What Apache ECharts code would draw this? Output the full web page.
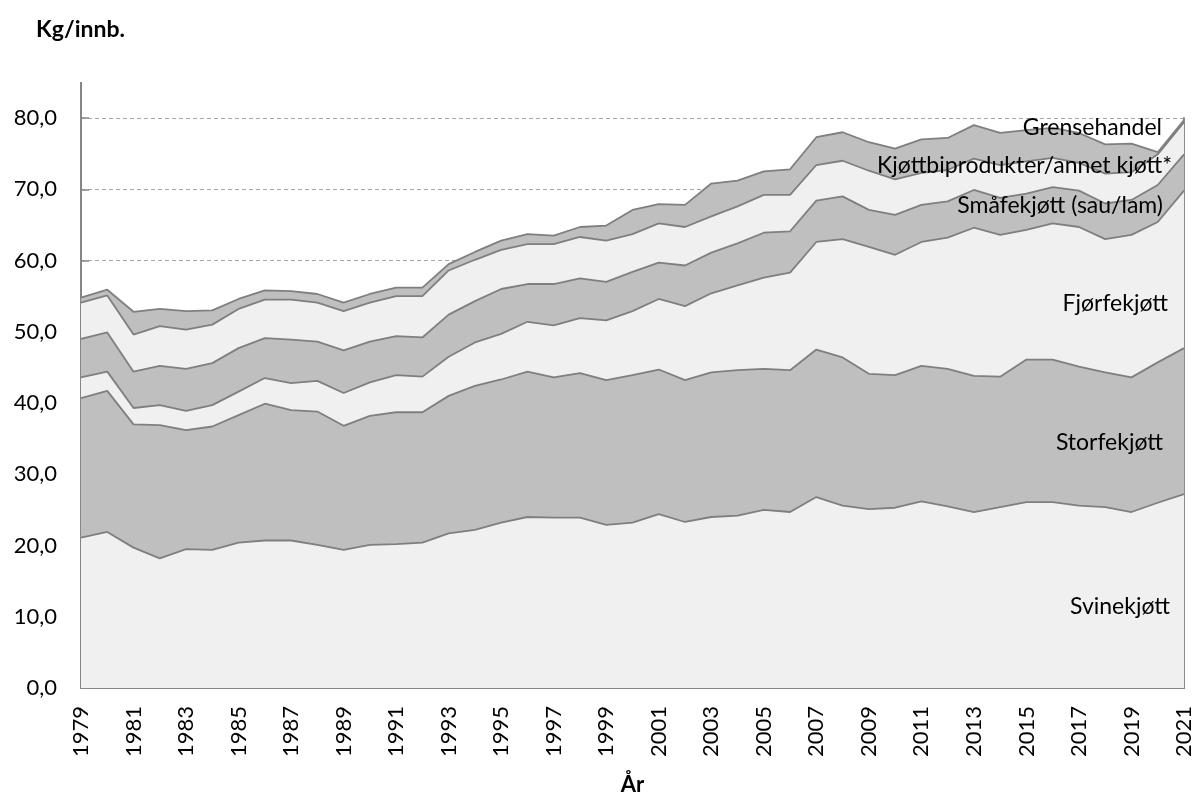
<!DOCTYPE html>
<html>
<head>
<meta charset="utf-8">
<script src="https://cdn.jsdelivr.net/npm/echarts@6/dist/echarts.min.js"></script>
<style>
  html, body { margin: 0; padding: 0; background: #fff; }
  #main { width: 1196px; height: 793px; }
</style>
</head>
<body>
<div id="main"></div>
<script>
  // år
  var years = ['1979', '1980', '1981', '1982', '1983', '1984', '1985', '1986', '1987', '1988',
    '1989', '1990', '1991', '1992', '1993', '1994', '1995', '1996', '1997', '1998',
    '1999', '2000', '2001', '2002', '2003', '2004', '2005', '2006', '2007', '2008',
    '2009', '2010', '2011', '2012', '2013', '2014', '2015', '2016', '2017', '2018',
    '2019', '2020', '2021'];

  // kg per innbygger, lest av figuren
  var svinekjott = [21.1, 21.9, 19.7, 18.2, 19.5, 19.4, 20.4, 20.7, 20.7, 20.1,
    19.4, 20.1, 20.2, 20.4, 21.7, 22.2, 23.2, 24.0, 23.9, 23.9,
    22.9, 23.2, 24.4, 23.3, 24.0, 24.2, 25.0, 24.7, 26.8, 25.6,
    25.1, 25.3, 26.2, 25.5, 24.7, 25.4, 26.1, 26.1, 25.6, 25.4,
    24.7, 26.0, 27.2];
  var storfekjott = [19.6, 19.8, 17.3, 18.7, 16.7, 17.3, 17.9, 19.2, 18.3, 18.7,
    17.4, 18.1, 18.5, 18.3, 19.3, 20.2, 20.1, 20.4, 19.7, 20.3,
    20.3, 20.7, 20.3, 19.9, 20.3, 20.4, 19.8, 19.9, 20.7, 20.8,
    19.0, 18.6, 19.0, 19.3, 19.1, 18.3, 20.0, 20.0, 19.5, 18.9,
    18.9, 19.7, 20.5];
  var fjorfekjott = [2.9, 2.7, 2.3, 2.8, 2.7, 3.0, 3.3, 3.6, 3.8, 4.3,
    4.6, 4.7, 5.2, 5.0, 5.5, 6.1, 6.4, 7.0, 7.3, 7.7,
    8.4, 9.0, 9.9, 10.4, 11.1, 11.9, 12.8, 13.7, 15.1, 16.6,
    17.8, 16.9, 17.4, 18.4, 20.8, 19.9, 18.2, 19.1, 19.6, 18.7,
    20.0, 19.7, 22.1];
  var smafekjott = [5.4, 5.5, 5.1, 5.5, 5.9, 5.9, 6.1, 5.6, 6.1, 5.5,
    6.0, 5.7, 5.5, 5.5, 5.9, 5.8, 6.3, 5.3, 5.8, 5.6,
    5.4, 5.5, 5.1, 5.7, 5.7, 5.9, 6.3, 5.8, 5.8, 6.0,
    5.2, 5.6, 5.2, 5.1, 5.3, 5.2, 5.1, 5.1, 5.1, 5.0,
    4.9, 5.2, 5.1];
  var biprodukter = [5.1, 5.2, 5.2, 5.6, 5.5, 5.4, 5.5, 5.4, 5.6, 5.5,
    5.5, 5.5, 5.6, 5.8, 6.2, 5.8, 5.5, 5.6, 5.6, 5.8,
    5.8, 5.3, 5.5, 5.4, 5.1, 5.2, 5.3, 5.1, 5.0, 5.0,
    5.5, 5.0, 4.5, 4.4, 4.4, 4.6, 4.5, 4.1, 3.9, 4.2,
    3.9, 4.3, 4.5];
  var grensehandel = [0.7, 0.8, 3.2, 2.4, 2.6, 2.0, 1.4, 1.3, 1.2, 1.2,
    1.2, 1.2, 1.2, 1.2, 0.9, 1.1, 1.3, 1.4, 1.2, 1.4,
    2.1, 3.4, 2.7, 3.1, 4.6, 3.6, 3.3, 3.6, 3.9, 4.0,
    4.0, 4.3, 4.7, 4.5, 4.7, 4.5, 4.4, 4.2, 4.2, 4.1,
    4.0, 0.3, 0.3];

  var yTicks = [0, 10, 20, 30, 40, 50, 60, 70, 80];

  var FONT = 'Lato';
  var lys = '#f0f0f0', mork = '#bfbfbf', kant = '#7f7f7f';

  function lag(navn, data, farge) {
    return {
      name: navn,
      type: 'line',
      stack: 'kjott',
      data: data,
      symbol: 'none',
      lineStyle: { color: kant, width: 1.8 },
      areaStyle: { color: farge, opacity: 1 },
      emphasis: { disabled: true },
      z: 2
    };
  }

  function tekst(t, right, y, bold) {
    return {
      type: 'text',
      right: right,
      top: y,
      style: {
        text: t,
        font: (bold ? 'bold ' : '') + '23px ' + FONT,
        fill: '#000'
      },
      z: 10
    };
  }

  var myChart = echarts.init(document.getElementById('main'));

  var option = {
    backgroundColor: '#fff',
    animation: false,
    grid: { left: 81, right: 12, top: 118, bottom: 105, containLabel: false, outerBoundsMode: 'none' },
    xAxis: {
      type: 'category',
      data: years,
      boundaryGap: false,
      axisLine: { lineStyle: { color: '#868686', width: 2 } },
      axisTick: { show: true, inside: true, length: 6, interval: 0, lineStyle: { color: '#868686', width: 1.5 } },
      axisLabel: { interval: 1, rotate: 90, margin: 18, fontSize: 22, fontFamily: FONT, color: '#000' },
      splitLine: { show: false },
      name: 'År',
      nameLocation: 'middle',
      nameGap: 86,
      nameTextStyle: { fontSize: 22, fontWeight: 'bold', fontFamily: FONT, color: '#000' }
    },
    yAxis: [{
      type: 'value',
      min: yTicks[0],
      max: yTicks[yTicks.length - 1],
      interval: 10,
      axisLine: { show: true, lineStyle: { color: '#868686', width: 2 } },
      axisTick: { show: true, inside: true, length: 8, lineStyle: { color: '#868686', width: 1.5 } },
      axisLabel: {
        margin: 24, fontSize: 22, fontFamily: FONT, color: '#000',
        formatter: function (v) { return v.toFixed(1).replace('.', ','); }
      },
      splitLine: { show: true, lineStyle: { color: '#a6a6a6', width: 1, type: [4, 3] } }
    }, {
      type: 'value',
      position: 'right',
      min: 0,
      max: 80,
      axisLine: { show: true, lineStyle: { color: kant, width: 1.8 } },
      axisTick: { show: false },
      axisLabel: { show: false },
      splitLine: { show: false }
    }],
    series: [
      lag('Svinekjøtt', svinekjott, lys),
      lag('Storfekjøtt', storfekjott, mork),
      lag('Fjørfekjøtt', fjorfekjott, lys),
      lag('Småfekjøtt (sau/lam)', smafekjott, mork),
      lag('Kjøttbiprodukter/annet kjøtt*', biprodukter, lys),
      lag('Grensehandel', grensehandel, mork)
    ],
    graphic: [
      // y-aksen går litt over 80
      { type: 'line', shape: { x1: 81, y1: 82, x2: 81, y2: 118 }, style: { stroke: '#868686', lineWidth: 2 }, z: 5 },
      tekst('Kg/innb.', null, 18, true),
      tekst('Grensehandel', 34, 116),
      tekst('Kjøttbiprodukter/annet kjøtt*', 24, 154),
      tekst('Småfekjøtt (sau/lam)', 33, 194),
      tekst('Fjørfekjøtt', 28, 292),
      tekst('Storfekjøtt', 33, 431),
      tekst('Svinekjøtt', 26, 595)
    ]
  };
  option.graphic[1].left = 36;
  delete option.graphic[1].right;

  myChart.setOption(option);
</script>
</body>
</html>
